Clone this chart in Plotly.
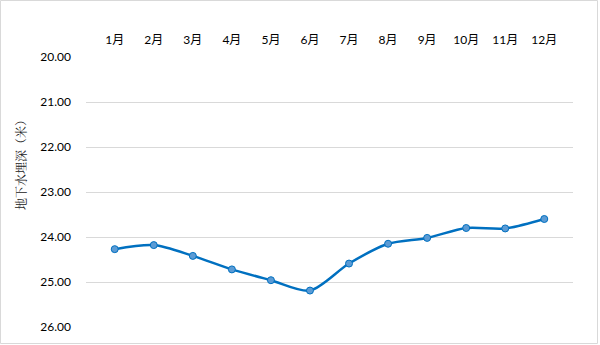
import plotly.graph_objects as go

months = ["1月", "2月", "3月", "4月", "5月", "6月", "7月", "8月", "9月", "10月", "11月", "12月"]
depth = [24.27, 24.18, 24.42, 24.72, 24.96, 25.19, 24.59, 24.15, 24.02, 23.80, 23.81, 23.60]
y_ticks = [20, 21, 22, 23, 24, 25, 26]

L, R, T, B = 86, 27, 57, 18
W, H = 600, 345
pw, ph = W - L - R, H - T - B

fig = go.Figure()
fig.add_trace(go.Scatter(
    x=months, y=depth, mode="lines+markers",
    line=dict(color="#0070C0", width=2.5, shape="spline", smoothing=0.8),
    marker=dict(size=7, color="#5B9BD5", line=dict(color="#0070C0", width=1)),
    hoverinfo="skip", showlegend=False,
))

fig.update_layout(
    width=W, height=H,
    margin=dict(l=L, r=R, t=T, b=B),
    paper_bgcolor="white", plot_bgcolor="white",
    font=dict(family="Lato, 'Noto Sans CJK SC', sans-serif", size=12, color="#000000"),
    xaxis=dict(side="top", showgrid=False, showline=False, ticks="",
               tickfont=dict(size=12), ticklabelstandoff=10),
    yaxis=dict(range=[26, 20], tickvals=y_ticks, tickformat=".2f",
               showgrid=True, gridcolor="#D9D9D9", gridwidth=1,
               zeroline=False, showline=False, ticks="",
               tickfont=dict(size=12), ticklabelstandoff=14),
    annotations=[dict(text="地下水埋深（米）", textangle=-90, showarrow=False,
                      xref="paper", yref="paper",
                      x=(20 - L) / pw, y=(H - B - 162) / ph,
                      xanchor="center", yanchor="middle",
                      font=dict(size=12, family="'Noto Serif CJK SC', 'Noto Sans CJK SC', serif", color="#222222"))],
    shapes=[dict(type="rect", xref="paper", yref="paper",
                 x0=(0.5 - L) / pw, x1=(W - 2.5 - L) / pw,
                 y0=(H - B - (H - 1.5)) / ph, y1=(H - B - 0.5) / ph,
                 line=dict(color="#D9D9D9", width=1), fillcolor="rgba(0,0,0,0)")],
)

fig.write_html("out.html")
